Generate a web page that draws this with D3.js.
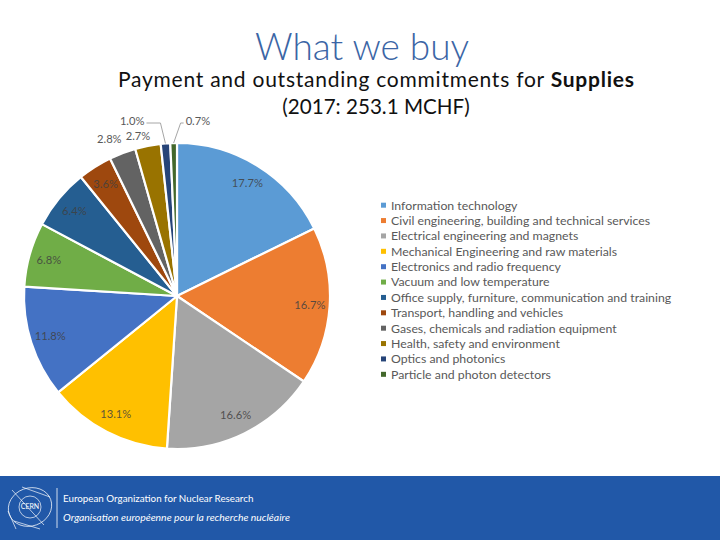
<!DOCTYPE html>
<html><head><meta charset="utf-8">
<script src="https://cdn.jsdelivr.net/npm/d3@7"></script>
<style>
html,body{margin:0;padding:0;background:#fff;}
svg{display:block;}
</style></head>
<body>
<svg id="c" width="720" height="540"></svg>
<script>
const categories = [
  "Information technology",
  "Civil engineering, building and technical services",
  "Electrical engineering and magnets",
  "Mechanical Engineering and raw materials",
  "Electronics and radio frequency",
  "Vacuum and low temperature",
  "Office supply, furniture, communication and training",
  "Transport, handling and vehicles",
  "Gases, chemicals and radiation equipment",
  "Health, safety and environment",
  "Optics and photonics",
  "Particle and photon detectors"
];
const shares = [17.7, 16.7, 16.6, 13.1, 11.8, 6.8, 6.4, 3.6, 2.8, 2.7, 1.0, 0.7];
const colors = ["#5B9BD5","#ED7D31","#A5A5A5","#FFC000","#4472C4","#70AD47","#255E91","#9E480E","#636363","#997300","#264478","#43682B"];
const titleText = "What we buy";
const subtitleText = "Payment and outstanding commitments for ";
const subtitleBold = "Supplies";
const subtitle2 = "(2017: 253.1 MCHF)";
const footer1 = "European Organization for Nuclear Research";
const footer2 = "Organisation européenne pour la recherche nucléaire";

const svg = d3.select("#c");
const font = "Lato, 'Open Sans', sans-serif";

// Title
svg.append("text").attr("x", 362).attr("y", 60).attr("text-anchor","middle")
  .attr("font-family", font).attr("font-weight",300).attr("font-size", 37)
  .attr("fill","#3B65A5").text(titleText);
const st = svg.append("text").attr("x", 376).attr("y", 87).attr("text-anchor","middle")
  .attr("font-family", font).attr("font-size", 21).attr("fill","#111")
  .attr("textLength", 516).attr("lengthAdjust","spacing");
st.append("tspan").text(subtitleText);
st.append("tspan").attr("font-weight",700).text(subtitleBold);
svg.append("text").attr("x", 376).attr("y", 114).attr("text-anchor","middle")
  .attr("font-family", font).attr("font-size", 20.6).attr("fill","#111").text(subtitle2);

// Pie
const cx = 177, cy = 296, R = 153;
const data = shares.map((v,i)=>({cat:categories[i], v, i}));
const pie = d3.pie().value(d=>d.v).sort(null);
const arcs = pie(data);
const arc = d3.arc().innerRadius(0).outerRadius(R);
const labelArc = d3.arc().innerRadius(R*0.87).outerRadius(R*0.87);
const g = svg.append("g").attr("transform",`translate(${cx},${cy})`);
g.selectAll("path").data(arcs).join("path")
  .attr("d", arc).attr("fill", d=>colors[d.data.i])
  .attr("stroke","#fff").attr("stroke-width",2.2).attr("stroke-linejoin","round");

const fmt = d=> d.toFixed(1)+"%";
const inside = arcs.filter(d=>d.data.v >= 3);
g.selectAll("text.in").data(inside).join("text").attr("class","in")
  .attr("transform", d=>`translate(${labelArc.centroid(d)})`)
  .attr("text-anchor","middle").attr("dy","0.35em")
  .attr("font-family", font).attr("font-size", 11.2).attr("fill","#404040").attr("fill-opacity",0.85)
  .text(d=>fmt(d.data.v));

// outside labels (layout nudges)
const outLayout = {8:{r:R+20, dx:-6, dy:5, anchor:"middle", leader:false},
                   9:{r:R+20, dx:-6, dy:10, anchor:"middle", leader:false},
                   10:{leader:true, side:-1},
                   11:{leader:true, side:1}};
const outside = arcs.filter(d=>d.data.v < 3);
outside.forEach(d=>{
  const L = outLayout[d.data.i];
  const a = (d.startAngle + d.endAngle)/2;
  if (!L.leader) {
    const x = Math.sin(a)*L.r + L.dx, y = -Math.cos(a)*L.r + L.dy;
    g.append("text").attr("x",x).attr("y",y).attr("dy","0.35em").attr("text-anchor",L.anchor)
      .attr("font-family", font).attr("font-size",11.2).attr("fill","#595959").text(fmt(d.data.v));
  } else {
    const px = Math.sin(a)*R, py = -Math.cos(a)*R;
    const ey = -(R+20);
    const ex = px + (L.side<0 ? -5 : 7);
    const hx = ex + L.side*(L.side<0 ? 14 : 3);
    g.append("path").attr("d",`M${px},${py}L${ex},${ey}L${hx},${ey}`)
      .attr("fill","none").attr("stroke","#A6A6A6").attr("stroke-width",1);
    g.append("text").attr("x",hx + L.side*2).attr("y",ey-2).attr("dy","0.35em")
      .attr("text-anchor", L.side<0 ? "end" : "start")
      .attr("font-family", font).attr("font-size",11.2).attr("fill","#595959").text(fmt(d.data.v));
  }
});

// Legend
const ly = d3.scaleBand().domain(categories).range([197.5, 382]);
const lg = svg.append("g");
const items = lg.selectAll("g").data(categories).join("g")
  .attr("transform", d=>`translate(381,${ly(d)+ly.bandwidth()/2})`);
items.append("rect").attr("x",0).attr("y",-2.5).attr("width",5).attr("height",5)
  .attr("fill",(d,i)=>colors[i]);
items.append("text").attr("x",10).attr("dy","0.35em")
  .attr("font-family", font).attr("font-size",12.3).attr("fill","#595959").text(d=>d);

// Footer
svg.append("rect").attr("x",0).attr("y",476).attr("width",720).attr("height",64).attr("fill","#2158A8");
const logo = svg.append("g").attr("transform","translate(30,507)").attr("fill","none").attr("stroke","#fff").attr("stroke-opacity",0.85).attr("stroke-width",0.8);
logo.append("circle").attr("r",11);
logo.append("ellipse").attr("rx",22).attr("ry",19).attr("transform","rotate(-20)");
logo.append("path").attr("d","M-18,-17L14,18M-8,-20L20,-10M-16,14L10,22M-22,4L-14,22");
svg.append("text").attr("x",30).attr("y",507).attr("dy","0.35em").attr("text-anchor","middle")
  .attr("font-family",font).attr("font-size",7).attr("fill","#fff").text("CERN");
svg.append("line").attr("x1",57).attr("x2",57).attr("y1",488).attr("y2",528).attr("stroke","#fff").attr("stroke-width",0.8);
svg.append("text").attr("x",63).attr("y",502).attr("font-family",font).attr("font-size",9.8).attr("fill","#fff").text(footer1);
svg.append("text").attr("x",63).attr("y",521).attr("font-family",font).attr("font-style","italic").attr("font-size",10.4).attr("fill","#fff").text(footer2);
</script>
</body></html>
